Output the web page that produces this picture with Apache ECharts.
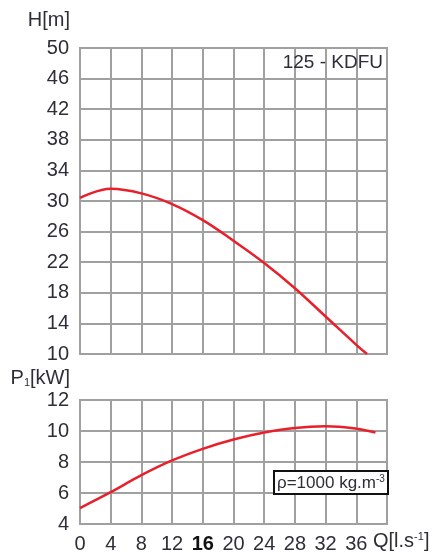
<!DOCTYPE html>
<html>
<head>
<meta charset="utf-8">
<script src="https://cdn.jsdelivr.net/npm/echarts@6/dist/echarts.min.js"></script>
<style>
html, body { margin: 0; padding: 0; background: #fff; }
#chart { width: 432px; height: 557px; }
</style>
</head>
<body>
<div id="chart"></div>
<script>
// 流量 Q [l/s] 与 扬程 H [m]
var flowH = [0, 4, 8, 12, 16, 20, 24, 28, 32, 36, 37.4];
var headH = [30.4, 31.6, 31.0, 29.6, 27.5, 24.8, 21.9, 18.6, 14.9, 11.2, 10.0];
// 流量 Q 与 功率 P1 [kW]
var flowP = [0, 4, 8, 12, 16, 20, 24, 28, 32, 36, 38.5];
var powerP = [5.03, 6.05, 7.15, 8.1, 8.85, 9.45, 9.9, 10.2, 10.3, 10.15, 9.9];
// 刻度
var hTicks = [10, 14, 18, 22, 26, 30, 34, 38, 42, 46, 50];

var fontFam = "'Liberation Sans Narrow', 'Liberation Sans', Arial, sans-serif";
var txtColor = '#2e2e38';
var gridColor = '#a0a0a0';
var curveColor = '#e8202c';

function pairs(xs, ys) {
	var out = [];
	for (var i = 0; i < xs.length; i++) {
		out.push([xs[i], ys[i]]);
	}
	return out;
}

var splitStyle = { show : true, lineStyle : { color : gridColor, width : 2 } };
var lineStyleAxis = { show : true, lineStyle : { color : gridColor, width : 2 } };

var option = {
	animation : false,
	grid : [
		{ left : 80, top : 48, width : 307, height : 306, show : true, borderColor : gridColor, borderWidth : 2 },
		{ left : 80, top : 400, width : 307, height : 124, show : true, borderColor : gridColor, borderWidth : 2 }
	],
	xAxis : [ {
		gridIndex : 0,
		type : 'value',
		min : 0,
		max : 40,
		interval : 4,
		axisLine : lineStyleAxis,
		axisTick : { show : false },
		axisLabel : { show : false },
		splitLine : splitStyle
	}, {
		gridIndex : 1,
		type : 'value',
		min : 0,
		max : 40,
		interval : 4,
		axisLine : lineStyleAxis,
		axisTick : { show : false },
		axisLabel : {
			show : true,
			margin : 10,
			color : txtColor,
			fontFamily : fontFam,
			fontSize : 20,
			formatter : function(v) {
				if (v == 40) return '';
				if (v == 16) return '{b|16}';
				return v + '';
			},
			rich : { b : { fontWeight : 'bold', fontFamily : fontFam, fontSize : 20, color : '#111' } }
		},
		splitLine : splitStyle
	} ],
	yAxis : [ {
		gridIndex : 0,
		type : 'value',
		min : 10,
		max : 50,
		axisLine : lineStyleAxis,
		axisTick : { show : false, customValues : hTicks },
		axisLabel : {
			customValues : hTicks,
			margin : 11,
			color : txtColor,
			fontFamily : fontFam,
			fontSize : 20
		},
		splitLine : splitStyle
	}, {
		gridIndex : 1,
		type : 'value',
		min : 4,
		max : 12,
		interval : 2,
		axisLine : lineStyleAxis,
		axisTick : { show : false },
		axisLabel : {
			margin : 11,
			color : txtColor,
			fontFamily : fontFam,
			fontSize : 20
		},
		splitLine : splitStyle
	} ],
	series : [ {
		name : 'H',
		type : 'line',
		xAxisIndex : 0,
		yAxisIndex : 0,
		smooth : 0.4,
		symbol : 'none',
		data : pairs(flowH, headH),
		lineStyle : { color : curveColor, width : 2.5 }
	}, {
		name : 'P1',
		type : 'line',
		xAxisIndex : 1,
		yAxisIndex : 1,
		smooth : 0.4,
		symbol : 'none',
		data : pairs(flowP, powerP),
		lineStyle : { color : curveColor, width : 2.5 }
	} ],
	graphic : [ {
		type : 'text',
		right : 432 - 70,
		top : 10,
		style : { text : 'H[m]', fill : txtColor, font : '20px ' + fontFam }
	}, {
		type : 'text',
		right : 432 - 70,
		top : 368,
		style : {
			text : 'P{s|1}[kW]',
			fill : txtColor,
			font : '20px ' + fontFam,
			rich : { s : { fontSize : 11, fontFamily : fontFam, fill : txtColor, padding : [10, 0, 0, 0] } }
		}
	}, {
		type : 'text',
		right : 432 - 383,
		top : 53,
		z : 10,
		style : { text : '125 - KDFU', fill : txtColor, font : '19px ' + fontFam }
	}, {
		type : 'rect',
		shape : { x : 274, y : 471, width : 114, height : 23 },
		z : 10,
		style : { fill : '#fff', stroke : '#111', lineWidth : 2 }
	}, {
		type : 'text',
		left : 277,
		top : 474,
		z : 11,
		style : {
			text : 'ρ=1000 kg.m{u|-3}',
			fill : txtColor,
			font : '17px ' + fontFam,
			rich : { u : { fontSize : 10, fontFamily : fontFam, fill : txtColor, padding : [0, 0, 8, 0] } }
		}
	}, {
		type : 'text',
		left : 373,
		top : 531,
		style : {
			text : 'Q[l.s{u|-1}]',
			fill : txtColor,
			font : '20px ' + fontFam,
			rich : { u : { fontSize : 11, fontFamily : fontFam, fill : txtColor, padding : [0, 0, 9, 0] } }
		}
	} ]
};

var myChart = echarts.init(document.getElementById('chart'));
myChart.setOption(option);
</script>
</body>
</html>
